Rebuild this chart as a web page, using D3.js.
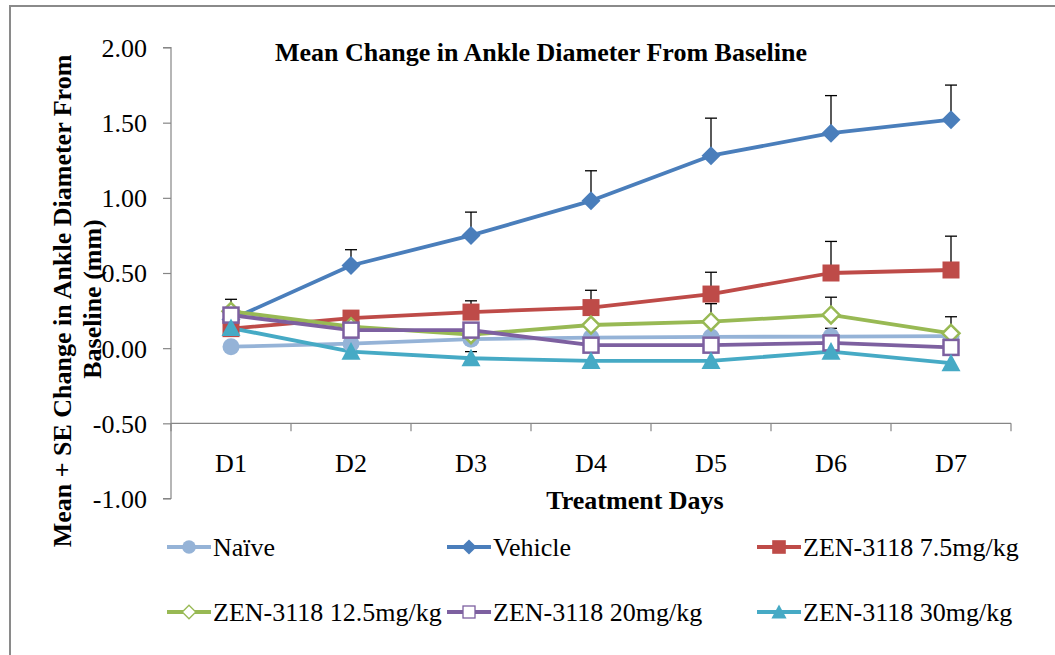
<!DOCTYPE html>
<html>
<head>
<meta charset="utf-8">
<script src="https://cdn.jsdelivr.net/npm/d3@7"></script>
<style>
  html, body { margin: 0; padding: 0; background: #fff; }
  svg { display: block; }
  text { font-family: "Liberation Serif", "Times New Roman", serif; fill: #000; }
</style>
</head>
<body>
<svg id="chart" width="1055" height="655"></svg>
<script>
const days = ["D1", "D2", "D3", "D4", "D5", "D6", "D7"];
const yTicks = [2.0, 1.5, 1.0, 0.5, 0.0, -0.5, -1.0];

const naive      = [0.01, 0.03, 0.06, 0.07, 0.075, 0.077, 0.08];
const naiveErr   = [0.03, 0.03, 0.04, 0.08, 0.09, 0.055, 0.03];
const vehicle    = [0.19, 0.55, 0.75, 0.98, 1.28, 1.43, 1.52];
const vehicleErr = [0.04, 0.105, 0.155, 0.20, 0.25, 0.25, 0.23];
const zen75      = [0.13, 0.20, 0.24, 0.27, 0.36, 0.50, 0.52];
const zen75Err   = [0.04, 0.04, 0.075, 0.115, 0.145, 0.21, 0.225];
const zen125     = [0.245, 0.143, 0.09, 0.154, 0.176, 0.221, 0.099];
const zen125Err  = [0.08, 0.04, 0.05, 0.10, 0.12, 0.118, 0.11];
const zen20      = [0.22, 0.12, 0.12, 0.02, 0.02, 0.035, 0.005];
const zen20Err   = [0.03, 0.03, 0.03, 0.03, 0.03, 0.03, 0.03];
const zen30      = [0.134, -0.023, -0.067, -0.085, -0.085, -0.023, -0.10];
const zen30Err   = [0.03, 0.03, 0.044, 0.062, 0.062, 0.03, 0.07];

const seriesNames = ["Naïve", "Vehicle", "ZEN-3118 7.5mg/kg", "ZEN-3118 12.5mg/kg", "ZEN-3118 20mg/kg", "ZEN-3118 30mg/kg"];

const series = [
  { name: seriesNames[0], values: naive,   err: naiveErr,   color: "#95B3D7", marker: "circle" },
  { name: seriesNames[1], values: vehicle, err: vehicleErr, color: "#4A7EBB", marker: "diamond" },
  { name: seriesNames[2], values: zen75,   err: zen75Err,   color: "#BE4B48", marker: "square" },
  { name: seriesNames[3], values: zen125,  err: zen125Err,  color: "#98B954", marker: "openDiamond" },
  { name: seriesNames[4], values: zen20,   err: zen20Err,   color: "#7D60A0", marker: "openSquare" },
  { name: seriesNames[5], values: zen30,   err: zen30Err,   color: "#46AAC5", marker: "triangle" }
];

const svg = d3.select("#chart");
const FONT = 26;

// outer frame
svg.append("rect").attr("x", 10).attr("y", 6).attr("width", 1100).attr("height", 700)
  .attr("fill", "none").attr("stroke", "#8a8a8a").attr("stroke-width", 2);

const left = 171, right = 1011;
const x = d3.scaleBand().domain(days).range([left, right]);
const y = d3.scaleLinear().domain([-1, 2]).range([498.5, 47.5]);

// Y axis
const yAxis = d3.axisLeft(y).tickValues(yTicks).tickSize(8).tickFormat((d) => d.toFixed(2));
const yG = svg.append("g").attr("transform", `translate(${left},0)`).call(yAxis);
yG.select(".domain").attr("stroke", "#868686").attr("stroke-width", 1.2).attr("d", `M-8,${y(2)}H0V${y(-1)}H-8`);
yG.selectAll(".tick line").attr("stroke", "#868686").attr("stroke-width", 1.2);
yG.selectAll(".tick text").attr("x", -24).attr("dy", "0.34em")
  .style("font-family", '"Liberation Serif", "Times New Roman", serif').style("font-size", FONT + "px").attr("fill", "#000");

// X axis crossing at -0.5
const xAxis = d3.axisBottom(x).tickSize(0);
const xG = svg.append("g").attr("transform", `translate(0,${y(-0.5)})`).call(xAxis);
xG.select(".domain").attr("stroke", "#868686").attr("stroke-width", 1.2).attr("d", `M${left},0H${right}`);
xG.selectAll(".tick text").attr("y", 30)
  .style("font-family", '"Liberation Serif", "Times New Roman", serif').style("font-size", FONT + "px").attr("fill", "#000");
// category boundary tick marks
const boundaries = days.map((d) => x(d) + x.bandwidth()).concat([left]);
xG.selectAll(".bound").data(boundaries).enter().append("line")
  .attr("x1", (d) => d).attr("x2", (d) => d).attr("y1", 0).attr("y2", 8)
  .attr("stroke", "#868686").attr("stroke-width", 1.2);

const cx = (i) => x(days[i]) + x.bandwidth() / 2;

// Lines
const line = d3.line().x((d, i) => cx(i)).y((d) => y(d));
series.forEach((s) => {
  svg.append("path").datum(s.values).attr("d", line)
    .attr("fill", "none").attr("stroke", s.color).attr("stroke-width", 3.8)
    .attr("stroke-linejoin", "round").attr("stroke-linecap", "round");
});

// Error bars (upper)
series.forEach((s) => {
  const g = svg.append("g");
  s.values.forEach((v, i) => {
    const top = y(v + s.err[i]);
    g.append("line").attr("x1", cx(i)).attr("x2", cx(i)).attr("y1", y(v)).attr("y2", top)
      .attr("stroke", "#000").attr("stroke-width", 1.3);
    g.append("line").attr("x1", cx(i) - 6).attr("x2", cx(i) + 6).attr("y1", top).attr("y2", top)
      .attr("stroke", "#000").attr("stroke-width", 1.3);
  });
});

function drawMarker(g, type, px, py, color, scale) {
  const k = scale || 1;
  if (type === "circle") {
    g.append("circle").attr("cx", px).attr("cy", py).attr("r", 8.5 * k).attr("fill", color);
  } else if (type === "diamond") {
    const r = 9.5 * k;
    g.append("path").attr("d", `M${px},${py - r}L${px + r},${py}L${px},${py + r}L${px - r},${py}Z`).attr("fill", color);
  } else if (type === "square") {
    const r = 8.5 * k;
    g.append("rect").attr("x", px - r).attr("y", py - r).attr("width", 2 * r).attr("height", 2 * r).attr("fill", color);
  } else if (type === "openDiamond") {
    const r = 8.5 * k;
    g.append("path").attr("d", `M${px},${py - r}L${px + r},${py}L${px},${py + r}L${px - r},${py}Z`)
      .attr("fill", "#fff").attr("stroke", color).attr("stroke-width", k < 1 ? 1.3 : 2.5);
  } else if (type === "openSquare") {
    const r = 7.5 * k;
    g.append("rect").attr("x", px - r).attr("y", py - r).attr("width", 2 * r).attr("height", 2 * r)
      .attr("fill", "#fff").attr("stroke", color).attr("stroke-width", k < 1 ? 1.3 : 2.5);
  } else if (type === "triangle") {
    const r = 9.5 * k;
    g.append("path").attr("d", `M${px},${py - r}L${px + r},${py + r * 0.85}L${px - r},${py + r * 0.85}Z`).attr("fill", color);
  }
}

// Markers
series.forEach((s) => {
  const g = svg.append("g");
  s.values.forEach((v, i) => drawMarker(g, s.marker, cx(i), y(v), s.color, 1));
});

// Title
svg.append("text").attr("x", 541).attr("y", 61).attr("text-anchor", "middle")
  .style("font-size", FONT + "px").style("font-weight", "bold")
  .text("Mean Change in Ankle Diameter From Baseline");

// Y axis title (two lines)
const yt = svg.append("text")
  .style("font-size", FONT + "px").style("font-weight", "bold").attr("text-anchor", "middle");
yt.append("tspan").attr("x", -301).attr("y", 71).text("Mean + SE Change in Ankle Diameter From");
yt.append("tspan").attr("x", -299).attr("y", 101).text("Baseline (mm)");
yt.attr("transform", "rotate(-90)");

// X axis title
svg.append("text").attr("x", 635).attr("y", 509).attr("text-anchor", "middle")
  .style("font-size", FONT + "px").style("font-weight", "bold").text("Treatment Days");

// Legend
const legendX = [167, 447, 757];
const legendY = [547, 612];
series.forEach((s, i) => {
  const col = i % 3, row = Math.floor(i / 3);
  const lx = legendX[col], ly = legendY[row];
  const g = svg.append("g");
  g.append("line").attr("x1", lx).attr("x2", lx + 44).attr("y1", ly).attr("y2", ly)
    .attr("stroke", s.color).attr("stroke-width", 3.8);
  drawMarker(g, s.marker, lx + 22, ly, s.color, 0.8);
  g.append("text").attr("x", lx + 46).attr("y", ly).attr("dy", "0.34em")
    .style("font-size", FONT + "px").text(s.name);
});
</script>
</body>
</html>
